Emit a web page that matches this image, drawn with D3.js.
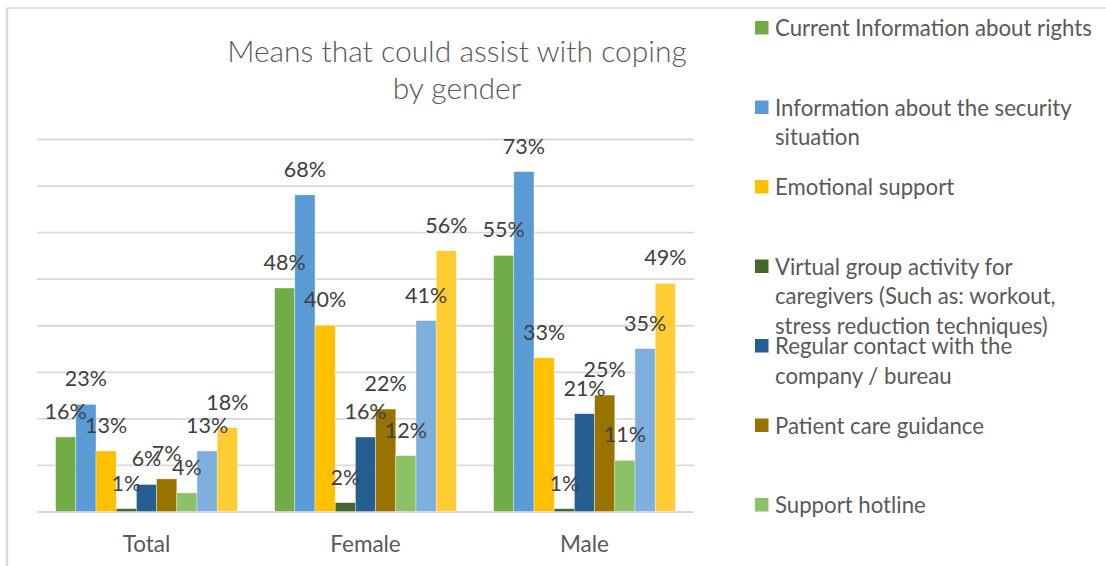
<!DOCTYPE html>
<html>
<head>
<meta charset="utf-8">
<script src="https://cdn.jsdelivr.net/npm/d3@7"></script>
<style>
  html, body { margin: 0; padding: 0; background: #fff; }
  svg { display: block; font-family: Lato, "Open Sans", sans-serif; }
</style>
</head>
<body>
<svg id="chart" width="1106" height="566"></svg>
<script>
// ---- data ----
const categories = ["Total", "Female", "Male"];
const seriesNames = [
  "Current Information about rights",
  "Information about the security\nsituation",
  "Emotional support",
  "Virtual group activity for\ncaregivers (Such as: workout,\nstress reduction techniques)",
  "Regular contact with the\ncompany / bureau",
  "Patient care guidance",
  "Support hotline",
  "Series 8",
  "Series 9"
];
const currentInfoRights  = [0.16, 0.48, 0.55];
const securityInfo       = [0.23, 0.68, 0.73];
const emotionalSupport   = [0.13, 0.40, 0.33];
const virtualGroup       = [0.006, 0.019, 0.006];
const regularContact     = [0.058, 0.16, 0.21];
const patientCare        = [0.07, 0.22, 0.25];
const supportHotline     = [0.04, 0.12, 0.11];
const series8Values      = [0.13, 0.41, 0.35];
const series9Values      = [0.18, 0.56, 0.49];
const seriesValues = [currentInfoRights, securityInfo, emotionalSupport, virtualGroup,
                      regularContact, patientCare, supportHotline, series8Values, series9Values];
const seriesColors = ["#70AD47", "#5B9BD5", "#FFC000", "#43682B", "#255E91",
                      "#997300", "#8CC168", "#7CAFDD", "#FFCD33"];
const yTicks = [0, 0.1, 0.2, 0.3, 0.4, 0.5, 0.6, 0.7, 0.8];
const titleLines = ["Means that could assist with coping", "by gender"];

// ---- layout ----
const W = 1106, H = 566;
const plot = { left: 37, right: 694, top: 139, bottom: 511.5 };
const textColor = "#595959";
const gridColor = "#D9D9D9";

const svg = d3.select("#chart");

// chart frame
svg.append("line").attr("x1", 7).attr("x2", W).attr("y1", 8).attr("y2", 8)
  .attr("stroke", gridColor).attr("stroke-width", 1.5);
svg.append("line").attr("x1", 7).attr("x2", 7).attr("y1", 8).attr("y2", H)
  .attr("stroke", gridColor).attr("stroke-width", 2.5);

// title
const title = svg.append("text")
  .attr("text-anchor", "middle")
  .attr("fill", textColor)
  .style("font-size", "30px")
  .style("font-weight", 300);
titleLines.forEach((t, i) => {
  title.append("tspan").attr("x", 457).attr("y", 62 + i * 37).text(t);
});

// scales
const x0 = d3.scaleBand().domain(categories).range([plot.left, plot.right]).padding(0);
const seriesKeys = d3.range(seriesNames.length);
const groupPad = x0.bandwidth() * 0.085;
const x1 = d3.scaleBand().domain(seriesKeys).range([groupPad, x0.bandwidth() - groupPad]).padding(0);
const y = d3.scaleLinear().domain([0, 0.8]).range([plot.bottom, plot.top]);

// gridlines
const grid = svg.append("g")
  .attr("transform", `translate(${plot.left},0)`)
  .call(d3.axisLeft(y).tickValues(yTicks).tickSize(-(plot.right - plot.left)).tickFormat(""));
grid.select(".domain").remove();
grid.selectAll(".tick line").attr("stroke", gridColor).attr("stroke-width", 1.8);

// bars
const groups = svg.append("g").selectAll("g")
  .data(categories)
  .join("g")
  .attr("transform", d => `translate(${x0(d)},0)`);

const barData = (cat, ci) => seriesKeys.map(k => ({ k, v: seriesValues[k][ci] }));

groups.selectAll("rect")
  .data((d, i) => barData(d, i))
  .join("rect")
  .attr("x", d => x1(d.k))
  .attr("width", x1.bandwidth())
  .attr("y", d => y(d.v))
  .attr("height", d => y(0) - y(d.v))
  .attr("fill", d => seriesColors[d.k])
  .attr("stroke", "rgba(255,255,255,0.6)")
  .attr("stroke-width", 0.6);

// data labels
const fmt = v => Math.round(v * 100) + "%";
groups.selectAll("text.lbl")
  .data((d, i) => barData(d, i))
  .join("text")
  .attr("class", "lbl")
  .attr("x", d => x1(d.k) + x1.bandwidth() / 2)
  .attr("y", d => y(d.v) - 18)
  .attr("text-anchor", "middle")
  .attr("fill", "#404040")
  .style("font-size", "21.5px")
  .text(d => fmt(d.v));

// x axis labels
const xAxis = svg.append("g")
  .attr("transform", `translate(0,${plot.bottom})`)
  .call(d3.axisBottom(x0).tickSize(0));
xAxis.select(".domain").remove();
xAxis.selectAll("text")
  .attr("dy", null)
  .attr("y", 40)
  .attr("fill", textColor)
  .style("font-size", "22.5px")
  .style("font-family", "Lato, sans-serif");

// legend
const legendTop = 28, legendStep = 79.5, lineH = 29.5;
const legend = svg.append("g");
seriesNames.forEach((name, i) => {
  const cy = legendTop + i * legendStep;
  if (cy > H - 10) return;
  const g = legend.append("g");
  g.append("rect").attr("x", 755).attr("y", cy - 7).attr("width", 13.5).attr("height", 13.5)
    .attr("fill", seriesColors[i]);
  const t = g.append("text").attr("fill", textColor).style("font-size", "22.2px");
  name.split("\n").forEach((line, j) => {
    t.append("tspan").attr("x", 775).attr("y", cy + 8 + j * lineH).text(line);
  });
});
</script>
</body>
</html>
